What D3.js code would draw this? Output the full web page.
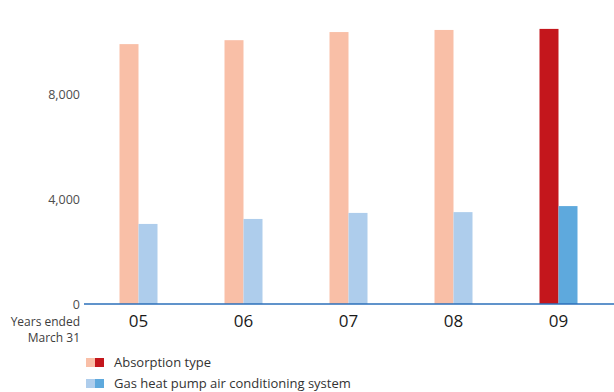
<!DOCTYPE html>
<html>
<head>
<meta charset="utf-8">
<script src="https://cdn.jsdelivr.net/npm/d3@7"></script>
<style>
  html, body { margin: 0; padding: 0; background: #fff; }
  svg { display: block; font-family: "Open Sans", "Noto Sans", sans-serif; }
</style>
</head>
<body>
<svg id="chart" width="614" height="392"></svg>
<script>
const years = ["05", "06", "07", "08", "09"];
const absorption = [9900, 10050, 10360, 10440, 10480];
const ghp = [3050, 3240, 3470, 3500, 3730];
const yTicks = [0, 4000, 8000];
const seriesNames = ["Absorption type", "Gas heat pump air conditioning system"];
const lightColors = ["#f9bfa7", "#aecdec"];
const darkColors = ["#c4161c", "#5ea9dd"];

const svg = d3.select("#chart");
const y = d3.scaleLinear().domain([0, 8000]).range([304, 94]);
const x = d3.scaleBand().domain(years).range([86, 611]).paddingInner(0).paddingOuter(0);
const barW = 19;

// bars
const series = [absorption, ghp];
series.forEach((vals, si) => {
  svg.append("g").selectAll("rect").data(years).join("rect")
    .attr("x", d => x(d) + x.bandwidth() / 2 - barW + si * barW)
    .attr("width", barW)
    .attr("y", (d, i) => y(vals[i]))
    .attr("height", (d, i) => y(0) - y(vals[i]))
    .attr("fill", (d, i) => i === years.length - 1 ? darkColors[si] : lightColors[si]);
});

// y axis labels
const yAxis = d3.axisLeft(y).tickValues(yTicks).tickSize(0).tickPadding(0)
  .tickFormat(d3.format(","));
const ga = svg.append("g").attr("transform", "translate(80,0)").call(yAxis);
ga.select(".domain").remove();
ga.selectAll("text").attr("fill", "#4d4d4d").style("font-size", "12.5px")
  .style("font-family", "'Open Sans', 'Noto Sans', sans-serif");

// baseline
svg.append("line").attr("x1", 84).attr("x2", 614).attr("y1", y(0)).attr("y2", y(0))
  .attr("stroke", "#2b6fba").attr("stroke-width", 1.6);

// x axis labels
const xAxis = d3.axisBottom(x).tickSize(0).tickPadding(0);
const gx = svg.append("g").attr("transform", "translate(0,315)").call(xAxis);
gx.select(".domain").remove();
gx.selectAll("text").attr("fill", "#1a1a1a").style("font-size", "17px")
  .style("font-family", "'Open Sans', 'Noto Sans', sans-serif");

// axis caption
svg.append("text").attr("x", 80).attr("y", 326).attr("text-anchor", "end")
  .attr("fill", "#3d3d3d").style("font-size", "12px").text("Years ended");
svg.append("text").attr("x", 80).attr("y", 342).attr("text-anchor", "end")
  .attr("fill", "#3d3d3d").style("font-size", "12px").text("March 31");

// legend
const lg = svg.append("g");
seriesNames.forEach((name, i) => {
  const yy = 358 + i * 21;
  lg.append("rect").attr("x", 86).attr("y", yy).attr("width", 9).attr("height", 9).attr("fill", lightColors[i]);
  lg.append("rect").attr("x", 95).attr("y", yy).attr("width", 9).attr("height", 9).attr("fill", darkColors[i]);
  lg.append("text").attr("x", 114).attr("y", yy + 9).attr("fill", "#333")
    .style("font-size", "13px").text(name);
});
</script>
</body>
</html>
